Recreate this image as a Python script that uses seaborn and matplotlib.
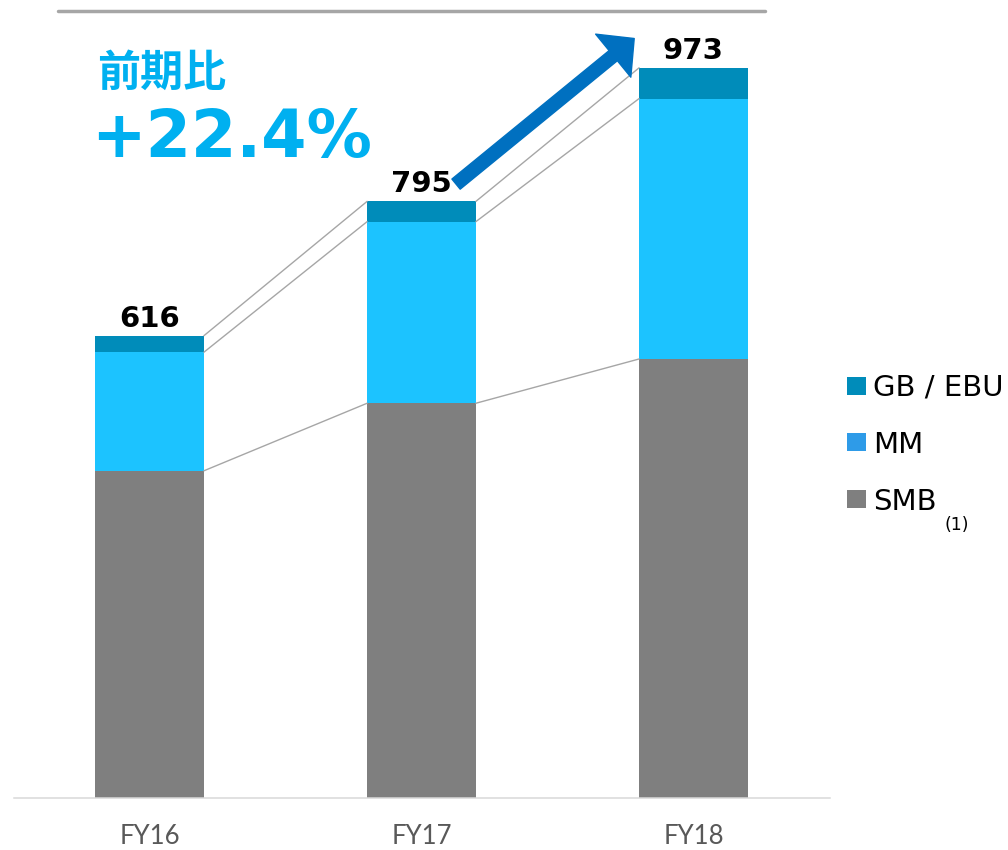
import matplotlib
matplotlib.use("Agg")
import matplotlib.pyplot as plt
from matplotlib.patches import FancyArrowPatch, Rectangle
from matplotlib.lines import Line2D
import seaborn as sns
import numpy as np

# ---- data ----
categories = ["FY16", "FY17", "FY18"]
smb = [436, 526, 585]
mm = [158, 242, 347]
gb_ebu = [22, 27, 41]
totals_labels = ["616", "795", "973"]
legend_labels = ["GB / EBU", "MM", "SMB"]
headline_label = "前期比"
growth_label = "+22.4%"
footnote_label = "(1)"

# ---- colours ----
C_SMB = "#7F7F7F"
C_MM = "#1CC3FF"
C_GB = "#008CBA"
C_MM_LEG = "#2E9BE8"
C_LINE = "#A6A6A6"
C_HEAD = "#00B0F0"
C_ARROW = "#0070C0"

sns.set_style("white")
plt.rcParams["font.family"] = ["DejaVu Sans"]

W, H = 1008, 850
fig = plt.figure(figsize=(W / 100, H / 100), dpi=100)
ax = fig.add_axes([13.5 / W, 52 / H, 816 / W, 788 / H])

lvl_smb = np.array(smb)
lvl_mm = lvl_smb + np.array(mm)
lvl_tot = lvl_mm + np.array(gb_ebu)

sns.barplot(x=categories, y=lvl_tot, color=C_GB, width=0.4, saturation=1,
            errorbar=None, linewidth=0, ax=ax, order=categories)
sns.barplot(x=categories, y=lvl_mm, color=C_MM, width=0.4, saturation=1,
            errorbar=None, linewidth=0, ax=ax, order=categories)
sns.barplot(x=categories, y=lvl_smb, color=C_SMB, width=0.4, saturation=1,
            errorbar=None, linewidth=0, ax=ax, order=categories)

ax.set_xlim(-0.5, 2.5)
ax.set_ylim(0, 1050)
ax.set_xlabel("")
ax.set_ylabel("")
ax.set_yticks([])
for s in ["top", "right", "left"]:
    ax.spines[s].set_visible(False)
ax.spines["bottom"].set_color("#D9D9D9")
ax.spines["bottom"].set_linewidth(1.1)
ax.tick_params(axis="x", length=0, pad=19, labelsize=18.5, labelcolor="#595959")
for t in ax.get_xticklabels():
    t.set_fontfamily("Lato")

# connector lines
half = 0.2
for lev in (lvl_smb, lvl_mm, lvl_tot):
    for i in range(len(categories) - 1):
        ax.plot([i + half, i + 1 - half], [lev[i], lev[i + 1]],
                color=C_LINE, lw=1.0, zorder=1)

# total labels
for i, lab in enumerate(totals_labels):
    ax.annotate(lab, xy=(i, lvl_tot[i]), xytext=(0, 6.5), textcoords="offset points",
                ha="center", va="baseline", fontsize=21, fontweight="bold",
                color="black")

# growth arrow
arrow = FancyArrowPatch((1.127, 818), (1.782, 1012),
                        arrowstyle="simple,head_length=19.5,head_width=40,tail_width=9.4",
                        mutation_scale=1, color=C_ARROW, shrinkA=0, shrinkB=0,
                        clip_on=False, zorder=5)
ax.add_patch(arrow)

# headline texts
fig.text(97 / W, 1 - 86 / H, headline_label, fontsize=31, fontweight="bold",
         color=C_HEAD, family=["Noto Sans CJK JP", "DejaVu Sans"], va="baseline")
fig.text(91 / W, 1 - 157 / H, growth_label, fontsize=47, fontweight="bold",
         color=C_HEAD, va="baseline")

# top decorative line
fig.add_artist(Line2D([58 / W, 765 / W], [1 - 10.5 / H, 1 - 10.5 / H],
                      color=C_LINE, lw=2.5, transform=fig.transFigure))

# legend (manual)
leg_colors = [C_GB, C_MM_LEG, C_SMB]
sq_tops = [377, 433, 490]
baselines = [396, 453, 510]
for lab, col, top, base in zip(legend_labels, leg_colors, sq_tops, baselines):
    fig.add_artist(Rectangle((847 / W, 1 - (top + 18) / H), 19 / W, 18 / H,
                             color=col, transform=fig.transFigure, lw=0))
    fig.text(873 / W, 1 - base / H, lab, fontsize=21, color="black", va="baseline")
fig.text(957 / W, 1 - 525 / H, footnote_label, fontsize=12.5, color="black",
         ha="center", va="center")

fig.savefig("out.png", dpi=100)
